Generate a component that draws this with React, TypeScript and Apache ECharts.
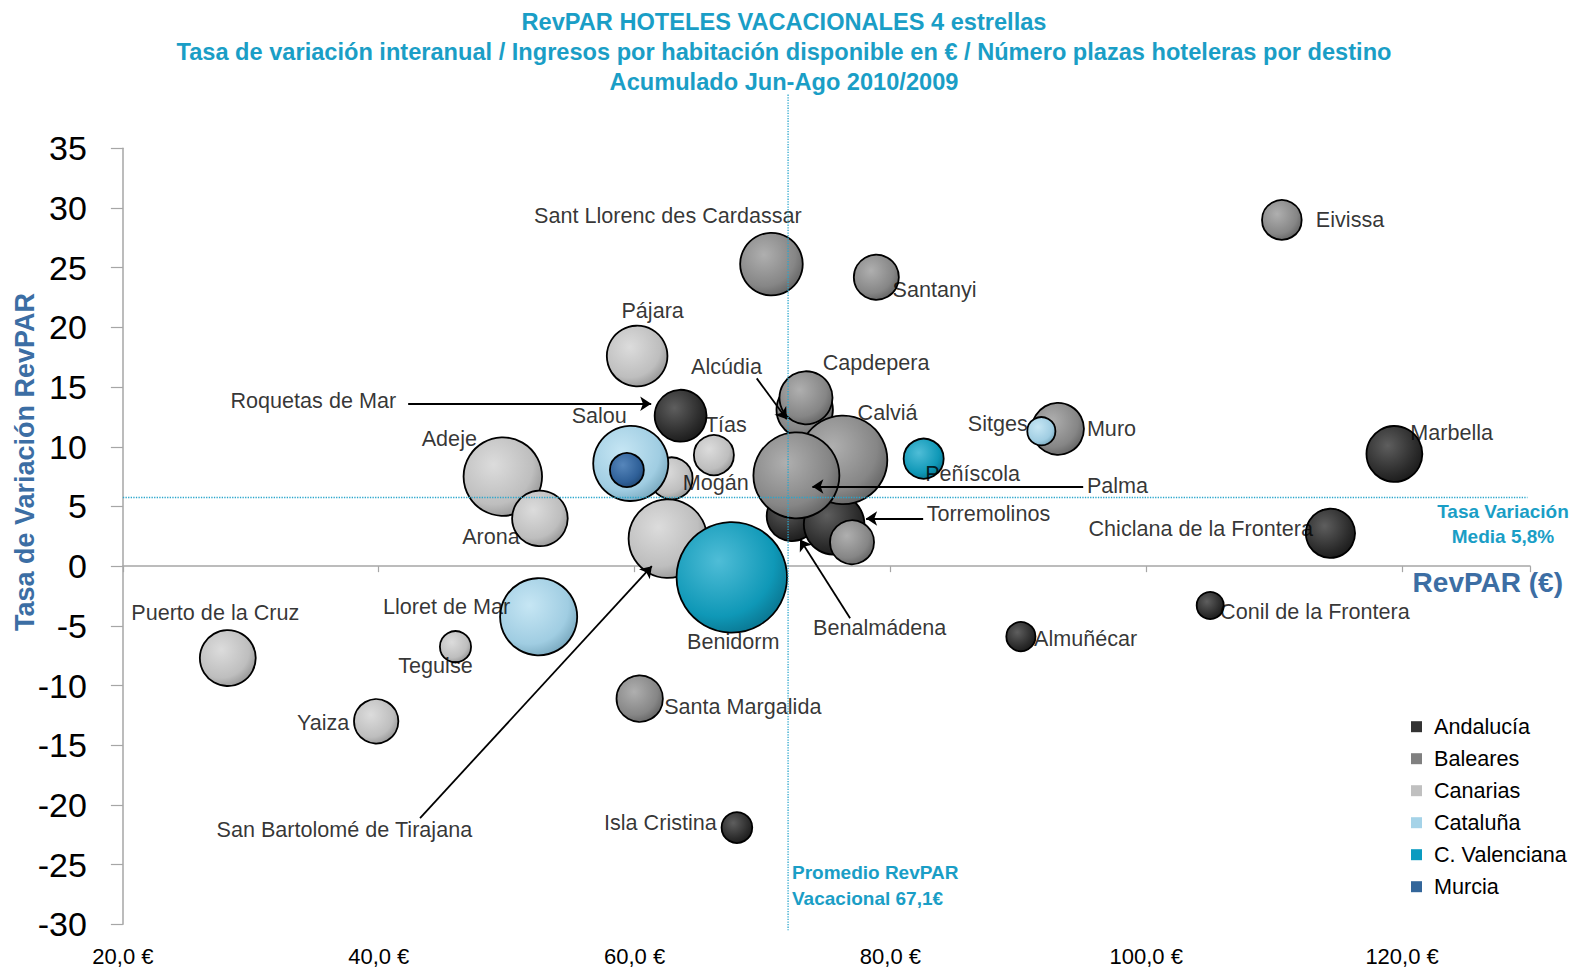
import React, { useEffect, useRef } from 'react';
import * as echarts from 'echarts';

const FONT = '"Liberation Sans", Arial, Helvetica, sans-serif';
const TEAL = '#1a9ec6';
const STEEL = '#3c6ea4';
const AXIS_GRAY = '#a6a6a6';
const DOT_COLOR = '#2aa6cc';

// ---------- Axis ranges ----------
const X_MIN = 20;
const X_MAX = 130;
const X_STEP = 20;
const Y_MIN = -30;
const Y_MAX = 35;
const Y_STEP = 5;

// ---------- Regions ----------
const REGIONS = ['Andalucía', 'Baleares', 'Canarias', 'Cataluña', 'C. Valenciana', 'Murcia'];
const LEGEND_COLORS = ['#333333', '#808080', '#c0c0c0', '#a5d3e8', '#0a9bc0', '#33669a'];
const BUBBLE_SHADES = [
  ['#5e5e5e', '#2c2c2c', '#1a1a1a'],
  ['#afafaf', '#868686', '#646464'],
  ['#dcdcdc', '#bebebe', '#969696'],
  ['#c6e6f4', '#a0cde2', '#78a8be'],
  ['#4fbdd7', '#0f98b7', '#0a7590'],
  ['#5686bb', '#2f6098', '#214a78'],
];

// ---------- Data: RevPAR (€), tasa de variación (%), plazas hoteleras ----------
const ANDALUCIA_NAMES = ['Roquetas de Mar', 'Benalmádena', 'Torremolinos', 'Marbella', 'Chiclana de la Frontera', 'Conil de la Frontera', 'Almuñécar', 'Isla Cristina'];
const ANDALUCIA_REVPAR = [63.6, 72.3, 75.6, 119.4, 114.4, 105.0, 90.2, 68.0];
const ANDALUCIA_TASA = [12.6, 4.2, 3.5, 9.4, 2.75, -3.3, -5.9, -21.9];
const ANDALUCIA_PLAZAS = [9100, 8600, 12300, 10500, 8200, 2600, 3000, 3300];

const BALEARES_NAMES = ['Eivissa', 'Sant Llorenc des Cardassar', 'Santanyi', 'Alcúdia', 'Calviá', 'Capdepera', 'Palma', 'Baleares (s/e)', 'Muro', 'Santa Margalida'];
const BALEARES_REVPAR = [110.6, 70.7, 78.9, 73.3, 76.3, 73.4, 72.65, 77.0, 93.1, 60.4];
const BALEARES_TASA = [29.0, 25.3, 24.2, 13.1, 8.9, 14.1, 7.6, 2.0, 11.5, -11.1];
const BALEARES_PLAZAS = [5400, 13100, 6900, 10700, 25800, 9500, 24400, 6600, 9100, 7300];

const CANARIAS_NAMES = ['Pájara', 'Tías', 'Mogán', 'San Bartolomé de Tirajana', 'Adeje', 'Arona', 'Puerto de la Cruz', 'Teguise', 'Yaiza'];
const CANARIAS_REVPAR = [60.2, 66.2, 62.9, 62.6, 49.7, 52.6, 28.2, 46.0, 39.8];
const CANARIAS_TASA = [17.6, 9.3, 7.35, 2.3, 7.5, 4.0, -7.7, -6.75, -13.0];
const CANARIAS_PLAZAS = [12300, 5500, 6000, 20400, 20400, 10400, 10500, 3400, 6700];

const CATALUNA_NAMES = ['Salou', 'Lloret de Mar', 'Sitges'];
const CATALUNA_REVPAR = [59.7, 52.5, 91.8];
const CATALUNA_TASA = [8.6, -4.24, 11.3];
const CATALUNA_PLAZAS = [18700, 19700, 2800];

const VALENCIA_NAMES = ['Benidorm', 'Peñíscola'];
const VALENCIA_REVPAR = [67.6, 82.6];
const VALENCIA_TASA = [-0.94, 9.0];
const VALENCIA_PLAZAS = [40000, 5500];

const MURCIA_NAMES = ['Murcia (s/e)'];
const MURCIA_REVPAR = [59.4];
const MURCIA_TASA = [8.05];
const MURCIA_PLAZAS = [4000];

// Reference values
const MEDIA_TASA = 5.8;
const PROMEDIO_LINE_X = 72.0; // position of the dotted "Promedio" line as drawn
const PROMEDIO_TEXT = 'Vacacional 67,1€';

// ---------- Label layout (pixel offsets from bubble centre) ----------
const LABEL_LAYOUT: Record<string, [number, number, string]> = {
  'Eivissa': [34.5, 0, 'left'],
  'Sant Llorenc des Cardassar': [-103, -48, 'center'],
  'Santanyi': [16.7, 12.7, 'left'],
  'Pájara': [16, -45, 'center'],
  'Roquetas de Mar': [-284, -15, 'right'],
  'Alcúdia': [-77.7, -42.7, 'center'],
  'Capdepera': [70.6, -34.4, 'center'],
  'Calviá': [45, -47.3, 'center'],
  'Palma': [291, 11, 'left'],
  'Tías': [12.5, -30, 'center'],
  'Salou': [-31, -47.3, 'center'],
  'Mogán': [44.6, 4.4, 'center'],
  'Peñíscola': [2, 15, 'left'],
  'Torremolinos': [93, -10, 'left'],
  'Benalmádena': [21.6, 112, 'left'],
  'San Bartolomé de Tirajana': [-323, 291, 'center'],
  'Benidorm': [2, 65, 'center'],
  'Adeje': [-53, -38, 'center'],
  'Arona': [-48.4, 18.4, 'center'],
  'Lloret de Mar': [-91.6, -10, 'center'],
  'Puerto de la Cruz': [72, -45, 'right'],
  'Teguise': [-19.5, 19, 'center'],
  'Yaiza': [-26.3, 1.7, 'right'],
  'Muro': [29.4, 0, 'left'],
  'Sitges': [-13, -7.7, 'right'],
  'Marbella': [16.3, -20.7, 'left'],
  'Chiclana de la Frontera': [-17, -4.3, 'right'],
  'Conil de la Frontera': [10.4, 6.4, 'left'],
  'Almuñécar': [13.7, 2.3, 'left'],
  'Santa Margalida': [25, 8.4, 'left'],
  'Isla Cristina': [-19.6, -5, 'right'],
};

// Leader arrows (data coordinates: from -> to)
const ARROWS: [number, number][][] = [
  [[42.3, 13.6], [61.3, 13.6]], // Roquetas de Mar
  [[69.55, 15.73], [71.9, 12.3]], // Alcúdia
  [[95.07, 6.67], [73.9, 6.67]], // Palma
  [[82.56, 3.99], [78.1, 3.99]], // Torremolinos
  [[76.85, -4.37], [72.94, 2.24]], // Benalmádena
  [[43.23, -21.1], [61.35, 0.0]], // San Bartolomé de Tirajana
];

const REGION_DATA = [
  { names: ANDALUCIA_NAMES, revpar: ANDALUCIA_REVPAR, tasa: ANDALUCIA_TASA, plazas: ANDALUCIA_PLAZAS },
  { names: BALEARES_NAMES, revpar: BALEARES_REVPAR, tasa: BALEARES_TASA, plazas: BALEARES_PLAZAS },
  { names: CANARIAS_NAMES, revpar: CANARIAS_REVPAR, tasa: CANARIAS_TASA, plazas: CANARIAS_PLAZAS },
  { names: CATALUNA_NAMES, revpar: CATALUNA_REVPAR, tasa: CATALUNA_TASA, plazas: CATALUNA_PLAZAS },
  { names: VALENCIA_NAMES, revpar: VALENCIA_REVPAR, tasa: VALENCIA_TASA, plazas: VALENCIA_PLAZAS },
  { names: MURCIA_NAMES, revpar: MURCIA_REVPAR, tasa: MURCIA_TASA, plazas: MURCIA_PLAZAS },
];

const textEl = (text: string, x: number, y: number, opts: any) => ({
  type: 'text',
  x,
  y,
  silent: true,
  z: 30,
  rotation: opts.rotation || 0,
  style: {
    text,
    fill: opts.fill,
    fontSize: opts.fontSize,
    fontWeight: opts.fontWeight || 'normal',
    fontFamily: FONT,
    align: opts.align || 'center',
    textAlign: opts.align || 'center',
    verticalAlign: 'middle',
    textVerticalAlign: 'middle',
  },
});

const BASE_GRAPHIC: any[] = [
  textEl('RevPAR HOTELES VACACIONALES 4 estrellas', 784, 22, { fill: TEAL, fontSize: 23.6, fontWeight: 'bold' }),
  textEl('Tasa de variación interanual / Ingresos por habitación disponible en € / Número plazas hoteleras por destino', 784, 52, { fill: TEAL, fontSize: 23.6, fontWeight: 'bold' }),
  textEl('Acumulado Jun-Ago 2010/2009', 784, 82, { fill: TEAL, fontSize: 23.6, fontWeight: 'bold' }),
  textEl('Tasa de Variación RevPAR', 25, 462, { fill: STEEL, fontSize: 27, fontWeight: 'bold', rotation: Math.PI / 2 }),
  textEl('RevPAR (€)', 1563, 582, { fill: STEEL, fontSize: 28, fontWeight: 'bold', align: 'right' }),
  textEl('Tasa Variación', 1503, 511, { fill: TEAL, fontSize: 19, fontWeight: 'bold' }),
  textEl('Media ' + MEDIA_TASA.toFixed(1).replace('.', ',') + '%', 1503, 536, { fill: TEAL, fontSize: 19, fontWeight: 'bold' }),
  textEl('Promedio RevPAR', 792, 872, { fill: TEAL, fontSize: 19, fontWeight: 'bold', align: 'left' }),
  textEl(PROMEDIO_TEXT, 792, 898, { fill: TEAL, fontSize: 19, fontWeight: 'bold', align: 'left' }),
];

function buildOption() {
  const bubbleSeries = REGION_DATA.map((reg, r) => ({
    type: 'scatter',
    name: REGIONS[r],
    xAxisIndex: 0,
    yAxisIndex: 0,
    z: 2,
    silent: true,
    emphasis: { disabled: true },
    data: reg.names.map((n, i) => ({ name: n, value: [reg.revpar[i], reg.tasa[i], reg.plazas[i]] })),
    symbolSize: (v: number[]) => 0.56 * Math.sqrt(v[2]) - 1.5,
    itemStyle: {
      color: {
        type: 'radial',
        x: 0.38,
        y: 0.35,
        r: 0.7,
        colorStops: [
          { offset: 0, color: BUBBLE_SHADES[r][0] },
          { offset: 0.72, color: BUBBLE_SHADES[r][1] },
          { offset: 1, color: BUBBLE_SHADES[r][2] },
        ],
      },
      borderColor: '#000',
      borderWidth: 1.8,
      opacity: 1,
    },
  }));

  const labelData: any[] = [];
  REGION_DATA.forEach((reg) => {
    reg.names.forEach((n, i) => {
      const lay = LABEL_LAYOUT[n];
      if (!lay) return;
      labelData.push({
        name: n,
        value: [reg.revpar[i], reg.tasa[i]],
        label: { show: true, position: [lay[0], lay[1]], align: lay[2], verticalAlign: 'middle' },
      });
    });
  });

  const dotted = { color: DOT_COLOR, width: 1.3, type: 'dotted' as const };
  const markLineData: any[] = [
    [
      { coord: [X_MIN, MEDIA_TASA], symbol: 'none', lineStyle: dotted },
      { coord: [129.8, MEDIA_TASA], symbol: 'none', lineStyle: dotted },
    ],
    ...ARROWS.map((a) => [
      { coord: a[0], symbol: 'none', lineStyle: { color: '#000', width: 1.8, type: 'solid' } },
      { coord: a[1], symbol: 'arrow', lineStyle: { color: '#000', width: 1.8, type: 'solid' } },
    ]),
  ];

  const labelSeries = {
    type: 'scatter',
    name: '__labels',
    xAxisIndex: 0,
    yAxisIndex: 0,
    z: 10,
    silent: true,
    clip: false,
    emphasis: { disabled: true },
    symbolSize: 1,
    itemStyle: { color: 'rgba(0,0,0,0)' },
    label: {
      show: true,
      formatter: '{b}',
      fontSize: 21.6,
      fontFamily: FONT,
      color: '#000',
    },
    data: labelData,
    markLine: {
      silent: true,
      symbol: ['none', 'arrow'],
      symbolSize: 11,
      label: { show: false },
      emphasis: { disabled: true },
      data: markLineData,
    },
  };

  return {
    animation: false,
    backgroundColor: '#ffffff',
    grid: { left: 122.9, right: 44, top: 148.3, bottom: 44.7, containLabel: false },
    xAxis: [
      {
        type: 'value',
        min: X_MIN,
        max: X_MAX,
        interval: X_STEP,
        position: 'bottom',
        axisLine: { show: true, onZero: true, lineStyle: { color: AXIS_GRAY, width: 1.5 } },
        axisTick: { show: true, inside: false, length: 6, lineStyle: { color: AXIS_GRAY, width: 1.2 } },
        axisLabel: { show: false },
        splitLine: { show: false },
      },
      {
        type: 'value',
        min: X_MIN,
        max: X_MAX,
        interval: X_STEP,
        position: 'bottom',
        axisLine: { show: false, onZero: false },
        axisTick: { show: false },
        axisLabel: {
          show: true,
          margin: 21,
          fontSize: 22,
          fontFamily: FONT,
          color: '#000',
          showMaxLabel: false,
          formatter: (v: number) => v.toFixed(1).replace('.', ',') + ' €',
        },
        splitLine: { show: false },
      },
    ],
    yAxis: {
      type: 'value',
      min: Y_MIN,
      max: Y_MAX,
      interval: Y_STEP,
      axisLine: { show: true, onZero: false, lineStyle: { color: AXIS_GRAY, width: 1.5 } },
      axisTick: { show: true, inside: false, length: 12, lineStyle: { color: AXIS_GRAY, width: 1.2 } },
      axisLabel: { show: true, margin: 36, fontSize: 34, fontFamily: FONT, color: '#000' },
      splitLine: { show: false },
    },
    legend: {
      orient: 'vertical',
      left: 1411,
      top: 715.7,
      padding: 0,
      itemWidth: 11,
      itemHeight: 11,
      itemGap: 10,
      icon: 'rect',
      selectedMode: false,
      itemStyle: { borderWidth: 0 },
      textStyle: { fontSize: 21.6, fontFamily: FONT, color: '#000', lineHeight: 22, padding: [0, 0, 0, 7] },
      data: REGIONS.map((r, i) => ({ name: r, itemStyle: { color: LEGEND_COLORS[i], borderWidth: 0 } })),
    },
    graphic: BASE_GRAPHIC,
    series: [...bubbleSeries, labelSeries],
  };
}

export default function App() {
  const ref = useRef<HTMLDivElement>(null);
  useEffect(() => {
    if (!ref.current) return;
    const chart = echarts.init(ref.current, null, { renderer: 'svg' });
    chart.setOption(buildOption() as any);
    // Vertical "Promedio" dotted line, positioned through the chart's own x scale
    const px = chart.convertToPixel({ xAxisIndex: 0 }, PROMEDIO_LINE_X) as number;
    const yTop = chart.convertToPixel({ yAxisIndex: 0 }, 39.5) as number;
    const yBot = chart.convertToPixel({ yAxisIndex: 0 }, -30.5) as number;
    chart.setOption({
      graphic: [
        ...BASE_GRAPHIC,
        {
          type: 'line',
          silent: true,
          z: 20,
          shape: { x1: px, y1: yTop, x2: px, y2: yBot },
          style: { stroke: DOT_COLOR, lineWidth: 1.3, lineDash: 'dotted' },
        },
      ],
    } as any);
    return () => chart.dispose();
  }, []);
  return (
    <div
      ref={ref}
      style={{ position: 'fixed', left: 0, top: 0, width: 1574, height: 969, background: '#ffffff' }}
    />
  );
}
